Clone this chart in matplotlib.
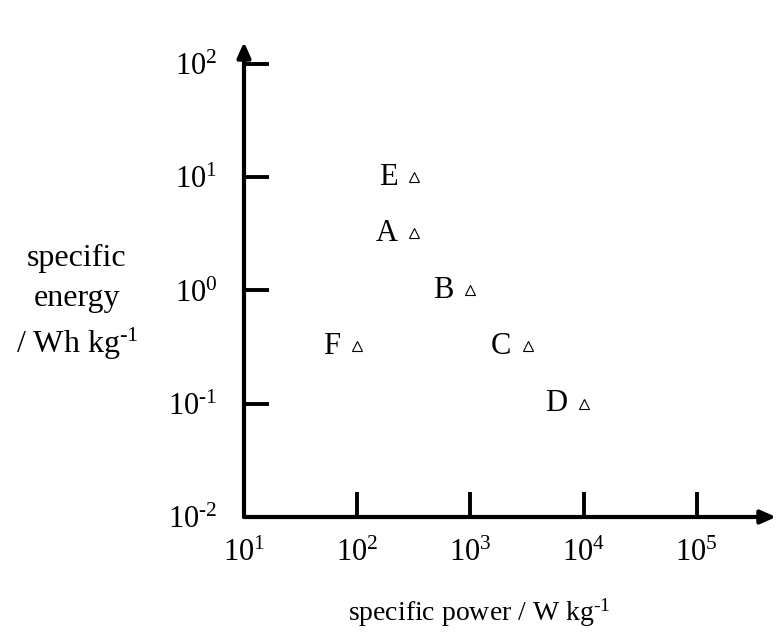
import matplotlib
matplotlib.use("Agg")
import matplotlib.pyplot as plt
import numpy as np

plt.rcParams['font.family'] = ['Liberation Serif', 'DejaVu Serif']
plt.rcParams['mathtext.fontset'] = 'custom'
plt.rcParams['mathtext.rm'] = 'Liberation Serif'
plt.rcParams['mathtext.it'] = 'Liberation Serif'
plt.rcParams['mathtext.default'] = 'rm'

labels = ['E', 'A', 'B', 'C', 'D', 'F']
power = [320, 320, 1000, 3200, 10000, 100]
energy = [10, 3.2, 1.0, 0.32, 0.1, 0.32]

x_ticks = [1e1, 1e2, 1e3, 1e4, 1e5]
x_ticklabels = [r'$10^{1}$', r'$10^{2}$', r'$10^{3}$', r'$10^{4}$', r'$10^{5}$']
y_ticks = [1e-2, 1e-1, 1e0, 1e1, 1e2]
y_ticklabels = [r'$10^{\text{-}2}$', r'$10^{\text{-}1}$', r'$10^{0}$', r'$10^{1}$', r'$10^{2}$']

fig = plt.figure(figsize=(7.76, 6.4), dpi=100)
ax = fig.add_axes([244/776, 123/640, 532/776, 475/640])
ax.set_xscale('log')
ax.set_yscale('log')
ax.set_xlim(10, 10**(1 + 532/113.2))
ax.set_ylim(1e-2, 10**(-2 + 475/113.3))

for s in ax.spines.values():
    s.set_visible(False)

# axis arrows
ax.annotate('', xy=(1.0, 0), xytext=(0, 0), xycoords='axes fraction',
            arrowprops=dict(arrowstyle='-|>,head_length=0.9,head_width=0.4',
                            lw=3, color='black', shrinkA=0, shrinkB=0))
ax.annotate('', xy=(0, 1.0), xytext=(0, 0), xycoords='axes fraction',
            arrowprops=dict(arrowstyle='-|>,head_length=0.9,head_width=0.4',
                            lw=3, color='black', shrinkA=0, shrinkB=0))

ax.set_xticks(x_ticks)
ax.set_xticklabels(x_ticklabels)
ax.set_yticks(y_ticks)
ax.set_yticklabels(y_ticklabels)
ax.minorticks_off()
ax.tick_params(axis='both', direction='in', length=18, width=2.8, labelsize=22, color='black')
ax.tick_params(axis='x', pad=16)
ax.tick_params(axis='y', pad=19)

ax.plot(power, energy, linestyle='none', marker='^', markersize=7,
        markerfacecolor='white', markeredgecolor='black', markeredgewidth=0.8)
for lab, px, py in zip(labels, power, energy):
    ax.annotate(lab, xy=(px, py), xytext=(-12, 0), textcoords='offset points',
                ha='right', va='center', fontsize=22)

fig.text(479/776, 1 - 613/640, r'specific power / W kg$^{\text{-}1}$', ha='center', va='center', fontsize=20)
fig.text(77/776, 1 - 303/640, 'specific\nenergy\n' + r'/ Wh kg$^{\text{-}1}$', ha='center', va='center',
         fontsize=23, linespacing=1.5, multialignment='center')

fig.savefig('out.png', dpi=100)
